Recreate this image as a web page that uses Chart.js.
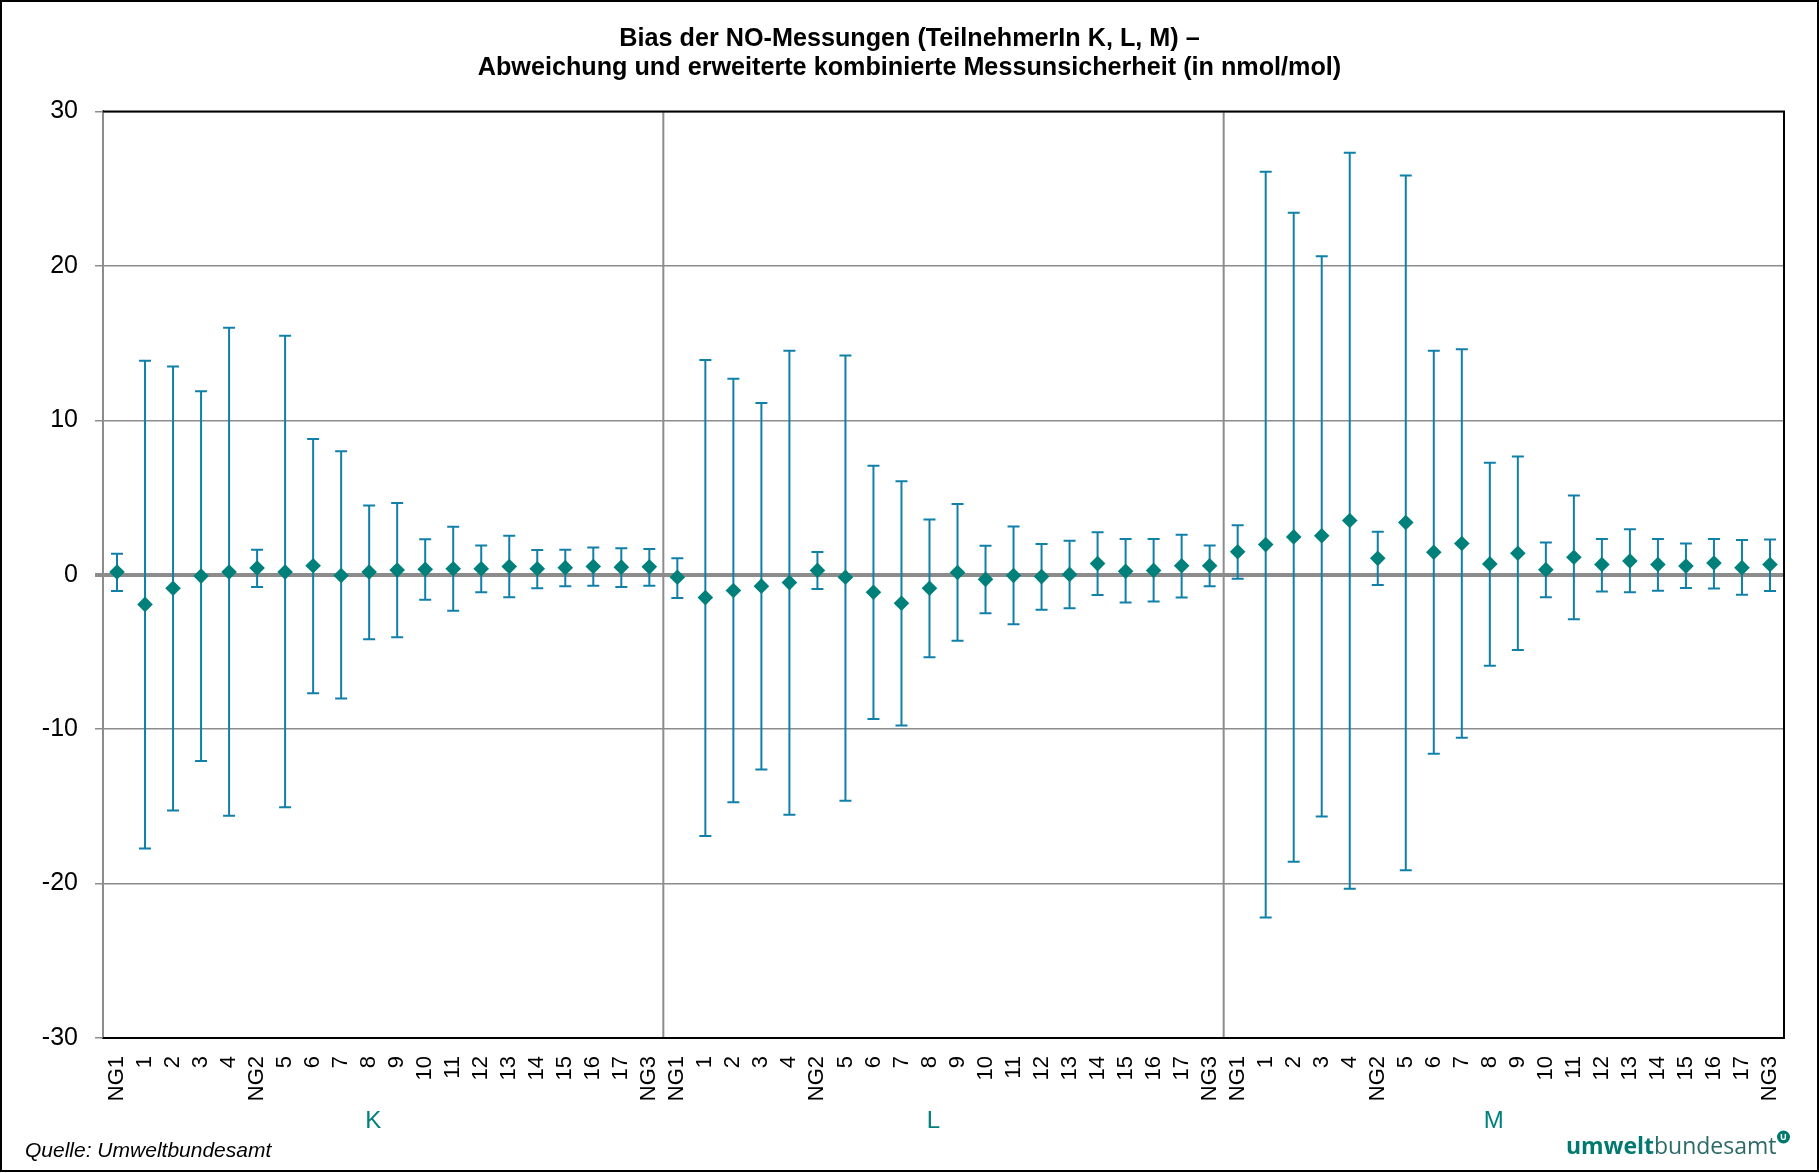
<!DOCTYPE html>
<html>
<head>
<meta charset="utf-8">
<script src="https://cdn.jsdelivr.net/npm/chart.js@4.4.1/dist/chart.umd.min.js"></script>
<style>
  html, body { margin: 0; padding: 0; background: #ffffff; }
  canvas { display: block; }
</style>
</head>
<body>
<canvas id="c" width="1819" height="1173"></canvas>
<script>
// ---------------- data ----------------
const categories = ['NG1','1','2','3','4','NG2','5','6','7','8','9','10','11','12','13','14','15','16','17','NG3'];
const groupNames = ['K','L','M'];
const yTickValues = [30, 20, 10, 0, -10, -20, -30];

const biasK  = [0.18, -1.92, -0.88, -0.09, 0.18, 0.44, 0.18, 0.58, -0.05, 0.18, 0.30, 0.35, 0.39, 0.39, 0.53, 0.39, 0.46, 0.53, 0.49, 0.51];
const upperK = [1.36, 13.85, 13.48, 11.88, 16.0, 1.62, 15.47, 8.79, 8.00, 4.49, 4.65, 2.29, 3.10, 1.90, 2.52, 1.60, 1.62, 1.76, 1.71, 1.66];
const lowerK = [-1.06, -17.73, -15.26, -12.07, -15.6, -0.79, -15.05, -7.68, -8.02, -4.18, -4.05, -1.62, -2.34, -1.13, -1.46, -0.88, -0.74, -0.72, -0.79, -0.72];

const biasL  = [-0.16, -1.48, -1.02, -0.74, -0.51, 0.28, -0.16, -1.13, -1.85, -0.88, 0.14, -0.30, -0.05, -0.12, 0.02, 0.72, 0.23, 0.28, 0.58, 0.58];
const upperL = [1.06, 13.90, 12.69, 11.12, 14.50, 1.48, 14.20, 7.05, 6.06, 3.58, 4.58, 1.87, 3.12, 1.99, 2.20, 2.75, 2.31, 2.31, 2.59, 1.90];
const lowerL = [-1.50, -16.92, -14.73, -12.62, -15.54, -0.92, -14.64, -9.34, -9.76, -5.34, -4.28, -2.50, -3.21, -2.27, -2.17, -1.32, -1.80, -1.73, -1.48, -0.74];

const biasM  = [1.49, 1.95, 2.45, 2.52, 3.51, 1.06, 3.38, 1.46, 2.02, 0.70, 1.39, 0.33, 1.13, 0.66, 0.89, 0.66, 0.56, 0.76, 0.46, 0.66];
const upperM = [3.21, 26.09, 23.44, 20.63, 27.32, 2.78, 25.86, 14.50, 14.60, 7.25, 7.65, 2.09, 5.13, 2.32, 2.95, 2.32, 2.02, 2.32, 2.25, 2.28];
const lowerM = [-0.26, -22.19, -18.58, -15.66, -20.33, -0.66, -19.14, -11.59, -10.56, -5.89, -4.87, -1.46, -2.88, -1.09, -1.13, -1.03, -0.86, -0.89, -1.29, -1.06];

// combined (library-facing) arrays
const allLabels = [].concat(categories, categories, categories);
const allBias   = [].concat(biasK, biasL, biasM);
const allUpper  = [].concat(upperK, upperL, upperM);
const allLower  = [].concat(lowerK, lowerL, lowerM);

// ---------------- styles ----------------
const TEAL = '#00807b';
const BAR = '#1180a9';
const GRID = '#8c8c8c';
const FONT = "'Liberation Sans', Arial, Helvetica, sans-serif";

const decorPlugin = {
  id: 'decor',
  beforeDatasetsDraw(chart) {
    const ctx = chart.ctx;
    const xs = chart.scales.x, ys = chart.scales.y;
    const a = chart.chartArea;
    ctx.save();
    // group dividers
    ctx.strokeStyle = GRID;
    ctx.lineWidth = 2;
    for (let g = 1; g < groupNames.length; g++) {
      const idx = g * categories.length;
      const x = (xs.getPixelForValue(idx - 1) + xs.getPixelForValue(idx)) / 2;
      ctx.beginPath();
      ctx.moveTo(x, a.top);
      ctx.lineTo(x, a.bottom);
      ctx.stroke();
    }
    // black frame top/right/bottom
    ctx.strokeStyle = '#000';
    ctx.lineWidth = 2;
    ctx.beginPath();
    ctx.moveTo(a.left, a.top);
    ctx.lineTo(a.right, a.top);
    ctx.lineTo(a.right, a.bottom);
    ctx.lineTo(a.left, a.bottom);
    ctx.stroke();
    // error bars
    ctx.strokeStyle = BAR;
    ctx.lineWidth = 2;
    const cap = 6;
    for (let i = 0; i < allBias.length; i++) {
      const x = xs.getPixelForValue(i);
      const yt = ys.getPixelForValue(allUpper[i]);
      const yb = ys.getPixelForValue(allLower[i]);
      ctx.beginPath();
      ctx.moveTo(x, yt); ctx.lineTo(x, yb);
      ctx.moveTo(x - cap, yt); ctx.lineTo(x + cap, yt);
      ctx.moveTo(x - cap, yb); ctx.lineTo(x + cap, yb);
      ctx.stroke();
    }
    ctx.restore();
  },
  afterDraw(chart) {
    const ctx = chart.ctx;
    ctx.save();
    // outer frame
    ctx.strokeStyle = '#000';
    ctx.lineWidth = 2;
    ctx.strokeRect(1, 1, chart.width - 2, chart.height - 3);
    // logo text
    const base = 1154;
    ctx.textBaseline = 'alphabetic';
    ctx.textAlign = 'left';
    ctx.font = "bold 23px 'Open Sans', sans-serif";
    ctx.fillStyle = '#00796f';
    ctx.fillText('umwelt', 1566, base);
    const w = ctx.measureText('umwelt').width;
    ctx.font = "23px 'Open Sans', sans-serif";
    ctx.fillStyle = '#2b6a66';
    ctx.fillText('bundesamt', 1566 + w, base);
    const w2 = ctx.measureText('bundesamt').width;
    const cx = 1566 + w + w2 + 7, cy = 1137;
    ctx.beginPath();
    ctx.arc(cx, cy, 6.5, 0, Math.PI * 2);
    ctx.fillStyle = '#00796f';
    ctx.fill();
    ctx.fillStyle = '#fff';
    ctx.font = "bold 9px 'Open Sans', sans-serif";
    ctx.textAlign = 'center';
    ctx.textBaseline = 'middle';
    ctx.fillText('U', cx, cy + 0.5);
    ctx.restore();
  }
};

new Chart(document.getElementById('c'), {
  type: 'line',
  data: {
    labels: allLabels,
    datasets: [{
      label: 'Bias',
      data: allBias,
      showLine: false,
      pointStyle: 'rectRot',
      pointRadius: 7.8,
      pointHoverRadius: 7.8,
      pointBorderWidth: 0,
      pointBackgroundColor: TEAL,
      pointBorderColor: TEAL,
      xAxisID: 'x',
      yAxisID: 'y'
    }]
  },
  options: {
    responsive: false,
    animation: false,
    events: [],
    layout: { padding: { left: 25, right: 25, top: 0, bottom: 0 } },
    plugins: {
      legend: { display: false },
      tooltip: { enabled: false },
      title: {
        display: true,
        text: ['Bias der NO-Messungen (TeilnehmerIn K, L, M) –', 'Abweichung und erweiterte kombinierte Messunsicherheit (in nmol/mol)'],
        color: '#000',
        font: { family: FONT, size: 25.2, weight: 'bold', lineHeight: 1.16 },
        padding: { top: 24, bottom: 29 }
      },
      subtitle: {
        display: true,
        position: 'bottom',
        align: 'start',
        text: 'Quelle: Umweltbundesamt',
        color: '#000',
        font: { family: FONT, size: 21, style: 'italic', lineHeight: 1.2 },
        padding: { top: 0, bottom: 9 }
      }
    },
    scales: {
      x: {
        type: 'category',
        position: 'bottom',
        weight: 0,
        offset: true,
        grid: { display: false, drawTicks: false },
        border: { display: true, color: '#000', width: 2 },
        ticks: {
          autoSkip: false,
          maxRotation: 90,
          minRotation: 90,
          padding: 18,
          color: '#000',
          font: { family: FONT, size: 22 }
        },
        afterFit(s) { s.height = 63; }
      },
      x2: {
        type: 'category',
        position: 'bottom',
        weight: 1,
        labels: groupNames,
        offset: true,
        grid: { display: false, drawTicks: false },
        border: { display: false },
        ticks: {
          padding: 6,
          labelOffset: -10,
          color: TEAL,
          font: { family: FONT, size: 24, lineHeight: 1.2 }
        },
        afterFit(s) { s.height = 37.8; }
      },
      y: {
        type: 'linear',
        position: 'left',
        min: -30,
        max: 30,
        afterBuildTicks(s) { s.ticks = yTickValues.map(v => ({ value: v })); },
        grid: {
          color: GRID,
          lineWidth: (c) => (c.tick && c.tick.value === 0 ? 4 : 1.5),
          tickLength: 8,
          drawTicks: true
        },
        border: { display: true, color: GRID, width: 2 },
        ticks: {
          padding: 17,
          color: '#000',
          font: { family: FONT, size: 25 }
        },
        afterFit(s) { s.width = 78; }
      },
      yr: {
        type: 'linear',
        position: 'right',
        display: true,
        grid: { display: false, drawTicks: false },
        border: { display: false },
        ticks: { display: false },
        afterFit(s) { s.width = 10; }
      }
    }
  },
  plugins: [decorPlugin]
});
</script>
</body>
</html>
